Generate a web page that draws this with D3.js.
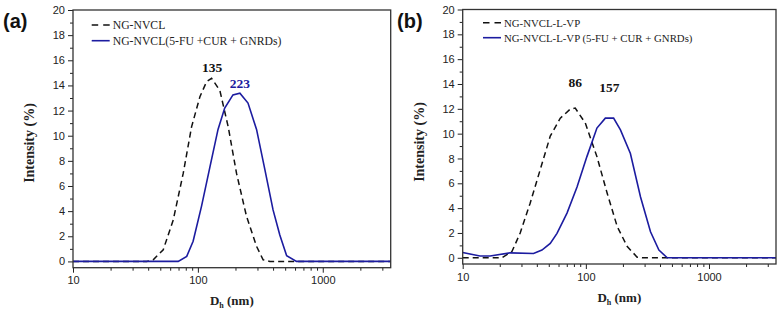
<!DOCTYPE html>
<html><head><meta charset="utf-8">
<script src="https://cdn.jsdelivr.net/npm/d3@7"></script>
<style>body{margin:0;background:#fff}svg{display:block}</style>
</head><body>
<svg id="c" width="781" height="313"></svg>
<script>
// Panel (a) data: [diameter nm, intensity %]
const aDashed = [[10,0],[39,0],[43.9,0.13],[52.8,0.93],[63.5,3.3],[76.3,7.0],[89,10.7],[103.8,13.1],[117.4,14.3],[128.8,14.57],[150,13.6],[175,10.7],[204,7.0],[245,3.6],[295,1.2],[333,0.13],[377,0],[3500,0]];
const aSolid = [[10,0],[69.6,0],[81.4,0.4],[91.6,1.6],[107,4.4],[124.8,7.5],[145,10.5],[164,12.2],[191,13.25],[217,13.38],[252,12.6],[295,10.5],[344,7.3],[400,4.1],[453,2.1],[514,0.45],[616,0],[3500,0]];
// Panel (b) data
const bDashed = [[10,0],[20.8,0],[25.1,0.5],[29.3,2.0],[35.3,4.4],[42.6,7.1],[51.4,9.8],[62,11.25],[74.8,11.98],[82,12.06],[99,10.85],[123,8.15],[149,5.2],[180,2.5],[217,0.9],[261,0.05],[290,0],[3500,0]];
const bSolid = [[10,0.43],[13.8,0.14],[16.7,0.14],[24.3,0.4],[37.6,0.35],[44,0.62],[51.4,1.16],[58.3,1.97],[70.3,3.6],[84.8,5.7],[102,8.15],[123,10.45],[144,11.25],[168,11.25],[191,10.3],[230,8.4],[278,4.9],[335,2.1],[392,0.62],[458,0],[3500,0]];

const xTicks = [10,100,1000];
const yTicks = [0,2,4,6,8,10,12,14,16,18,20];
const xDomain = [10,3500];
const yDomain = [-0.5,20];

const panels = [
  {label:"(a)", lx:3, box:[73,390.7,10,267.7], dashed:aDashed, solid:aSolid,
   legend:["NG-NVCL","NG-NVCL(5-FU +CUR + GNRDs)"], legY:[25,40.7], legX:91.7, legFont:11.7,
   peaks:[{t:"135",d:130,v:14.57,dy:-6,c:"#111"},{t:"223",d:217,v:13.38,dy:-5,c:"#1c1ca0"}],
   ytitleY:143, xtitleBase:305},
  {label:"(b)", lx:397, box:[462.7,776,9.5,264], dashed:bDashed, solid:bSolid,
   legend:["NG-NVCL-L-VP","NG-NVCL-L-VP (5-FU + CUR + GNRDs)"], legY:[22.7,37.7], legX:483, legFont:10.8,
   peaks:[{t:"86",d:82,v:12.06,dy:-21,c:"#111"},{t:"157",d:155,v:11.25,dy:-26,c:"#111"}],
   ytitleY:142, xtitleBase:302}
];

const svg = d3.select("#c");
const blue = "#1c1ca0";
const serif = "Liberation Serif, Times New Roman, serif";
const sans = "Liberation Sans, Arial, sans-serif";

panels.forEach(p => {
  const [L,R,T,B] = p.box;
  const x = d3.scaleLog().domain(xDomain).range([L,R]);
  const y = d3.scaleLinear().domain(yDomain).range([B,T]);
  const g = svg.append("g");

  // minor ticks
  const xMinor = [];
  for (let dec=10; dec<=1000; dec*=10) for (let k=2;k<=9;k++){ const v=dec*k; if (v<=xDomain[1]) xMinor.push(v); }
  g.append("g").attr("transform",`translate(0,${B})`)
    .call(d3.axisBottom(x).tickValues(xMinor).tickSize(3).tickFormat(""))
    .call(s=>s.select(".domain").remove())
    .selectAll("line").attr("stroke","#222");
  const yMinor = d3.range(1,20,2);
  g.append("g").attr("transform",`translate(${L},0)`)
    .call(d3.axisLeft(y).tickValues(yMinor).tickSize(3).tickFormat(""))
    .call(s=>s.select(".domain").remove())
    .selectAll("line").attr("stroke","#222");

  const xa = g.append("g").attr("transform",`translate(0,${B})`)
    .call(d3.axisBottom(x).tickValues(xTicks).tickSize(5).tickPadding(4).tickFormat(d3.format("d")));
  xa.select(".domain").remove();
  xa.selectAll("line").attr("stroke","#222");
  xa.selectAll("text").attr("font-family",sans).attr("font-size",11).attr("fill","#222");
  const ya = g.append("g").attr("transform",`translate(${L},0)`)
    .call(d3.axisLeft(y).tickValues(yTicks).tickSize(5).tickPadding(3));
  ya.select(".domain").remove();
  ya.selectAll("line").attr("stroke","#222");
  ya.selectAll("text").attr("font-family",sans).attr("font-size",11).attr("fill","#222");

  const line = d3.line().x(d=>x(d[0])).y(d=>y(d[1]));
  g.append("path").datum(p.dashed).attr("d",line).attr("fill","none")
    .attr("stroke","#111").attr("stroke-width",1.5).attr("stroke-dasharray","6,4");
  g.append("path").datum(p.solid).attr("d",line).attr("fill","none")
    .attr("stroke",blue).attr("stroke-width",1.6);

  // frame
  g.append("rect").attr("x",L).attr("y",T).attr("width",R-L).attr("height",B-T)
    .attr("fill","none").attr("stroke","#333").attr("stroke-width",1.3);

  // legend
  g.append("line").attr("x1",p.legX).attr("x2",p.legX+18).attr("y1",p.legY[0]).attr("y2",p.legY[0])
    .attr("stroke","#111").attr("stroke-width",1.5).attr("stroke-dasharray","6.5,5");
  g.append("line").attr("x1",p.legX).attr("x2",p.legX+18).attr("y1",p.legY[1]).attr("y2",p.legY[1])
    .attr("stroke",blue).attr("stroke-width",1.6);
  p.legend.forEach((t,i)=>{
    g.append("text").attr("x",p.legX+21).attr("y",p.legY[i]+4).text(t)
      .attr("font-family",serif).attr("font-size",p.legFont).attr("fill","#222");
  });

  // peak labels
  p.peaks.forEach(k=>{
    g.append("text").attr("x",x(k.d)).attr("y",y(k.v)+k.dy).attr("text-anchor","middle").text(k.t)
      .attr("font-family",serif).attr("font-weight","bold")
      .attr("font-size",13.5).attr("fill",k.c);
  });

  // panel label
  g.append("text").attr("x",p.lx).attr("y",28).text(p.label)
    .attr("font-family",sans).attr("font-weight","bold").attr("font-size",20).attr("fill","#111");

  // axis titles
  const xt = g.append("text").attr("x",(L+R)/2).attr("y",p.xtitleBase).attr("text-anchor","middle")
    .attr("font-family",serif).attr("font-weight","bold").attr("font-size",13).attr("fill","#222");
  xt.append("tspan").text("D");
  xt.append("tspan").text("h").attr("font-size",8).attr("dy",3);
  xt.append("tspan").text(" (nm)").attr("dy",-3);
  g.append("text").attr("transform",`translate(${L-39},${p.ytitleY}) rotate(-90)`).attr("text-anchor","middle")
    .attr("font-family",serif).attr("font-weight","bold").attr("font-size",14).attr("fill","#222")
    .text("Intensity (%)");
});
</script>
</body></html>
